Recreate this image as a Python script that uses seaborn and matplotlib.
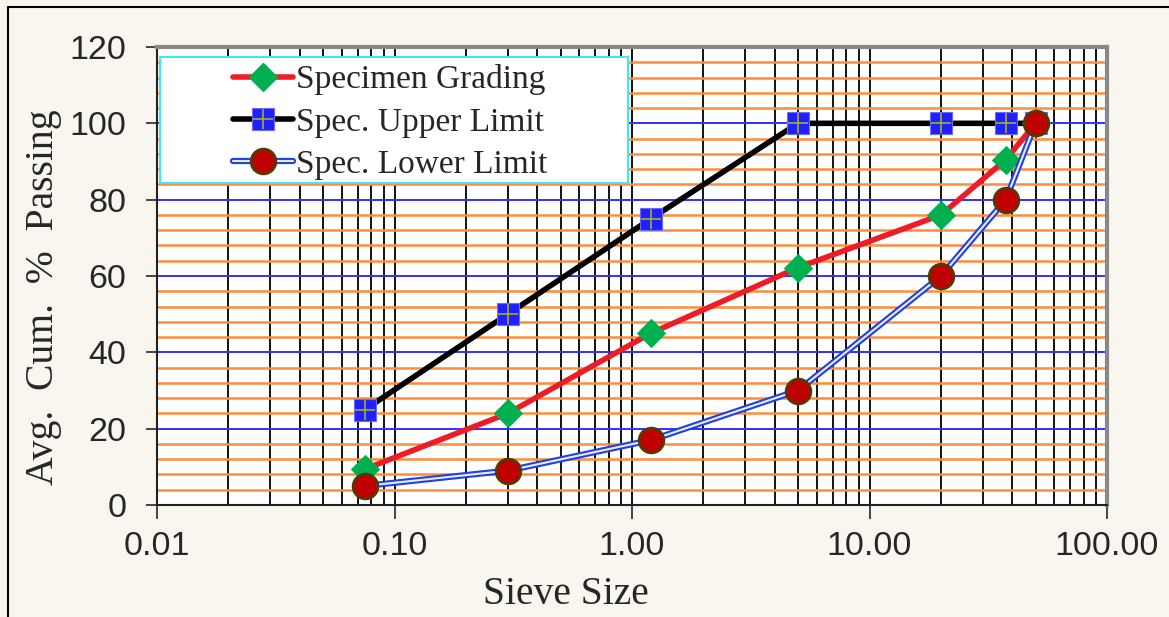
import numpy as np
import pandas as pd
import matplotlib
matplotlib.use("Agg")
import matplotlib.pyplot as plt
import seaborn as sns
from matplotlib.lines import Line2D
from matplotlib.patches import Rectangle
from matplotlib.ticker import LogLocator, MultipleLocator, FuncFormatter
from matplotlib.legend_handler import HandlerTuple

# -----------------------
# Data
# -----------------------
sieve_size = [0.075, 0.3, 1.2, 5.0, 20.0, 37.5, 50.0]
specimen = [9.4, 24.0, 45.0, 62.2, 76.0, 90.5, 100.0]
upper_limit = [25, 50, 75, 100, 100, 100, 100]
lower_limit = [5, 9, 17, 30, 60, 80, 100]
x_ticks = [0.01, 0.1, 1, 10, 100]
y_ticks = [0, 20, 40, 60, 80, 100, 120]

df = pd.DataFrame({"size": sieve_size, "specimen": specimen,
                   "upper": upper_limit, "lower": lower_limit})

# -----------------------
# Style
# -----------------------
sns.set_style("white")
bg = "#f9f5ef"
serif = ["Liberation Serif", "DejaVu Serif"]
sans = ["Liberation Sans", "DejaVu Sans"]

fig = plt.figure(figsize=(11.69, 6.17), dpi=100, facecolor=bg)
ax = fig.add_axes([157 / 1169, 112 / 617, 950 / 1169, 458 / 617])
ax.set_facecolor("white")

# frame lines of the outer chart area
fig.add_artist(Line2D([8 / 1169, 1.0], [1 - 7 / 617, 1 - 7 / 617], color="black", lw=1.5))
fig.add_artist(Line2D([8 / 1169, 8 / 1169], [0.0, 1 - 7 / 617], color="black", lw=1.5))

# -----------------------
# Lines
# -----------------------
sq_kw = dict(marker="s", markersize=16, markerfacecolor="#2020ff",
             markeredgecolor="#6a6aff", markeredgewidth=0.8)
plus_kw = dict(ls="none", marker="+", markersize=15, color="#a0b020",
               markeredgewidth=1.2)
dia_kw = dict(marker="D", markersize=14.5, markerfacecolor="#00b050",
              markeredgecolor="#00b050")
circ_kw = dict(marker="o", markersize=18, markerfacecolor="#c00000",
               markeredgecolor="#4a4000", markeredgewidth=1.8)

sns.lineplot(data=df, x="size", y="upper", ax=ax, color="black", lw=4,
             zorder=4, **sq_kw)
ax.plot(df["size"], df["upper"], zorder=4, **plus_kw)

sns.lineplot(data=df, x="size", y="specimen", ax=ax, color="#ee1c25", lw=4,
             zorder=5, **dia_kw)

sns.lineplot(data=df, x="size", y="lower", ax=ax, color="#2040e0", lw=4.5, zorder=6)
sns.lineplot(data=df, x="size", y="lower", ax=ax, color="#e8ecff", lw=1.5,
             zorder=6, **circ_kw)

# -----------------------
# Axes
# -----------------------
ax.set_xscale("log")
ax.set_xlim(0.01, 100)
ax.set_ylim(0, 120)
ax.set_xticks(x_ticks)
ax.xaxis.set_major_formatter(FuncFormatter(lambda v, p: f"{v:.2f}"))
ax.xaxis.set_minor_locator(LogLocator(base=10, subs=np.arange(2, 10)))
ax.xaxis.set_minor_formatter(FuncFormatter(lambda v, p: ""))
ax.set_yticks(y_ticks)
ax.yaxis.set_minor_locator(MultipleLocator(4))

ax.grid(which="minor", axis="y", color="#ff8c3a", lw=1.8, zorder=1)
ax.grid(which="major", axis="y", color="#3030ff", lw=1.4, zorder=1)
ax.grid(which="both", axis="x", color="black", lw=1.3, zorder=1)
ax.set_axisbelow(True)

ax.tick_params(axis="x", which="major", direction="out", length=10, width=1.2,
               pad=9, labelsize=24.5, bottom=True)
ax.tick_params(axis="x", which="minor", length=0)
ax.tick_params(axis="y", which="major", direction="out", length=8, width=1.2,
               pad=14, labelsize=24.5, left=True)
ax.tick_params(axis="y", which="minor", length=0)
for lab in ax.get_xticklabels() + ax.get_yticklabels():
    lab.set_family(sans)

for side in ["left", "bottom"]:
    ax.spines[side].set_color("#222222")
    ax.spines[side].set_linewidth(1.5)
for side in ["top", "right"]:
    ax.spines[side].set_color("#888888")
    ax.spines[side].set_linewidth(3)

ax.set_xlabel("Sieve Size", fontsize=28.5, family=serif)
ax.set_ylabel("Avg.  Cum.  %  Passing", fontsize=28.5, family=serif)
ax.xaxis.set_label_coords(0.43, -0.155)
ax.yaxis.set_label_coords(-0.1, 0.453)

# -----------------------
# Legend
# -----------------------
ax.add_patch(Rectangle((0.0032, 0.703), 0.4926, 0.275, transform=ax.transAxes,
                       facecolor="white", edgecolor="#40e8f0", lw=1.5, zorder=7))

h_spec = Line2D([], [], color="#ee1c25", lw=4, **dia_kw)
h_up = (Line2D([], [], color="black", lw=4, **sq_kw), Line2D([], [], **plus_kw))
h_low = (Line2D([], [], color="#2040e0", lw=4.5),
         Line2D([], [], color="#e8ecff", lw=1.5, **circ_kw))
leg = ax.legend([h_spec, h_up, h_low],
                ["Specimen Grading", "Spec. Upper Limit", "Spec. Lower Limit"],
                handler_map={tuple: HandlerTuple(ndivide=1)},
                loc="upper left", bbox_to_anchor=(0.08, 0.962), frameon=False,
                prop={"family": serif, "size": 24}, handlelength=1.8,
                handletextpad=0.1, labelspacing=0.35, borderpad=0,
                borderaxespad=0)
leg.set_zorder(8)

fig.savefig("out.png", dpi=100, facecolor=bg)
